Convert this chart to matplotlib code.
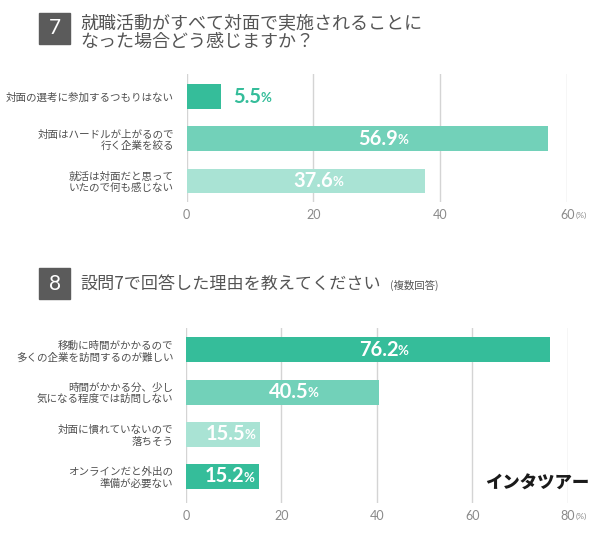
import matplotlib
matplotlib.use("Agg")
import matplotlib.pyplot as plt
from matplotlib.patches import Rectangle

plt.rcParams['font.family'] = ['Noto Sans CJK JP', 'DejaVu Sans']

# ---- data ----
q7_title = "就職活動がすべて対面で実施されることに\nなった場合どう感じますか？"
q7_labels = ["対面の選考に参加するつもりはない",
             "対面はハードルが上がるので\n行く企業を絞る",
             "就活は対面だと思って\nいたので何も感じない"]
q7_values = [5.5, 56.9, 37.6]
q7_ticks = [0, 20, 40, 60]

q8_title = "設問7で回答した理由を教えてください"
q8_note = "(複数回答)"
q8_labels = ["移動に時間がかかるので\n多くの企業を訪問するのが難しい",
             "時間がかかる分、少し\n気になる程度では訪問しない",
             "対面に慣れていないので\n落ちそう",
             "オンラインだと外出の\n準備が必要ない"]
q8_values = [76.2, 40.5, 15.5, 15.2]
q8_ticks = [0, 20, 40, 60, 80]

DARK = "#35BD9A"
MID = "#72D1B9"
LIGHT = "#A9E3D4"
q7_colors = [DARK, MID, LIGHT]
q8_colors = [DARK, MID, LIGHT, DARK]

W, H = 611, 548
fig = plt.figure(figsize=(W / 100, H / 100), dpi=100)
fig.patch.set_facecolor("white")
NUMFONT = ['Lato', 'DejaVu Sans']


def px_axes(x0, y0, x1, y1):
    return fig.add_axes([x0 / W, 1 - y1 / H, (x1 - x0) / W, (y1 - y0) / H])


def draw_chart(ax, labels, values, colors, ticks, xmax, ylim, min_inside):
    n = len(values)
    ypos = list(range(n))
    ax.barh(ypos, values, height=0.59, color=colors, zorder=2)
    ax.set_xlim(0, xmax)
    ax.set_ylim(*ylim)
    for s in ax.spines.values():
        s.set_visible(False)
    ax.set_xticks(ticks)
    ax.set_xticklabels([str(t) for t in ticks], family=NUMFONT,
                       fontweight='normal', color="#8a8a8a", fontsize=9)
    ax.tick_params(axis='x', length=0, pad=5)
    ax.set_yticks(ypos)
    ax.set_yticklabels(labels, fontsize=7.6, color="#505050", linespacing=1.15)
    ax.tick_params(axis='y', length=0, pad=9)
    ax.grid(axis='x', color="#d4d4d4", linewidth=1, zorder=0)
    ax.set_axisbelow(True)
    for y, v, c in zip(ypos, values, colors):
        if v < min_inside:
            xx = v + xmax * 0.03
            ha = 'left'
            tc = DARK
        else:
            xx = v * 0.53
            ha = 'center'
            tc = 'white'
        t = ax.text(xx, y, f"{v:.1f}", ha=ha, va='center', color=tc,
                    fontsize=14.5, fontweight='bold', family=NUMFONT,
                    zorder=3)
        ax.annotate("%", xy=(1, 0.14), xycoords=t, xytext=(-0.5, 0),
                    textcoords='offset points', ha='left', va='bottom',
                    color=tc, fontsize=9.5, fontweight='bold',
                    family=NUMFONT, zorder=3)
    # (%) unit after last tick
    ax.annotate("(%)", xy=(xmax, 0), xycoords=('data', 'axes fraction'),
                xytext=(6, -9.5), textcoords='offset points', fontsize=6,
                color="#8a8a8a", ha='left', va='center', family=NUMFONT)


# ---- Q7 ----
ax1 = px_axes(186.5, 74, 567.3, 202)
draw_chart(ax1, q7_labels, q7_values, q7_colors, q7_ticks, 60, (2.5, -0.54), 10)

# ---- Q8 ----
ax2 = px_axes(186, 328, 567.7, 503)
draw_chart(ax2, q8_labels, q8_values, q8_colors, q8_ticks, 80, (3.63, -0.52), 10)

# ---- titles ----
def title_box(num, y0, y1):
    fig.patches.append(Rectangle((39 / W, 1 - y1 / H), 31 / W, (y1 - y0) / H,
                                 transform=fig.transFigure, color="#5b5b5b",
                                 zorder=1))
    fig.text(54.5 / W, 1 - ((y0 + y1) / 2) / H, num, color="white",
             fontsize=15, ha='center', va='center',
             family=NUMFONT, zorder=2)


title_box("7", 13, 44)
fig.text(80 / W, 1 - 33 / H, q7_title, fontsize=13, color="#555555",
         ha='left', va='center', linespacing=1.05)

title_box("8", 268, 299)
t8 = fig.text(80 / W, 1 - 284 / H, q8_title, fontsize=12.3, color="#555555",
              ha='left', va='center')
fig.text(390 / W, 1 - 285 / H, q8_note, fontsize=7.5, color="#555555",
         ha='left', va='center')

# logo
fig.text(537 / W, 1 - 484 / H, "インタツアー", fontsize=12.5, fontweight='heavy',
         color="#1a1a1a", ha='center', va='center')

fig.savefig("out.png", dpi=100, facecolor="white")
